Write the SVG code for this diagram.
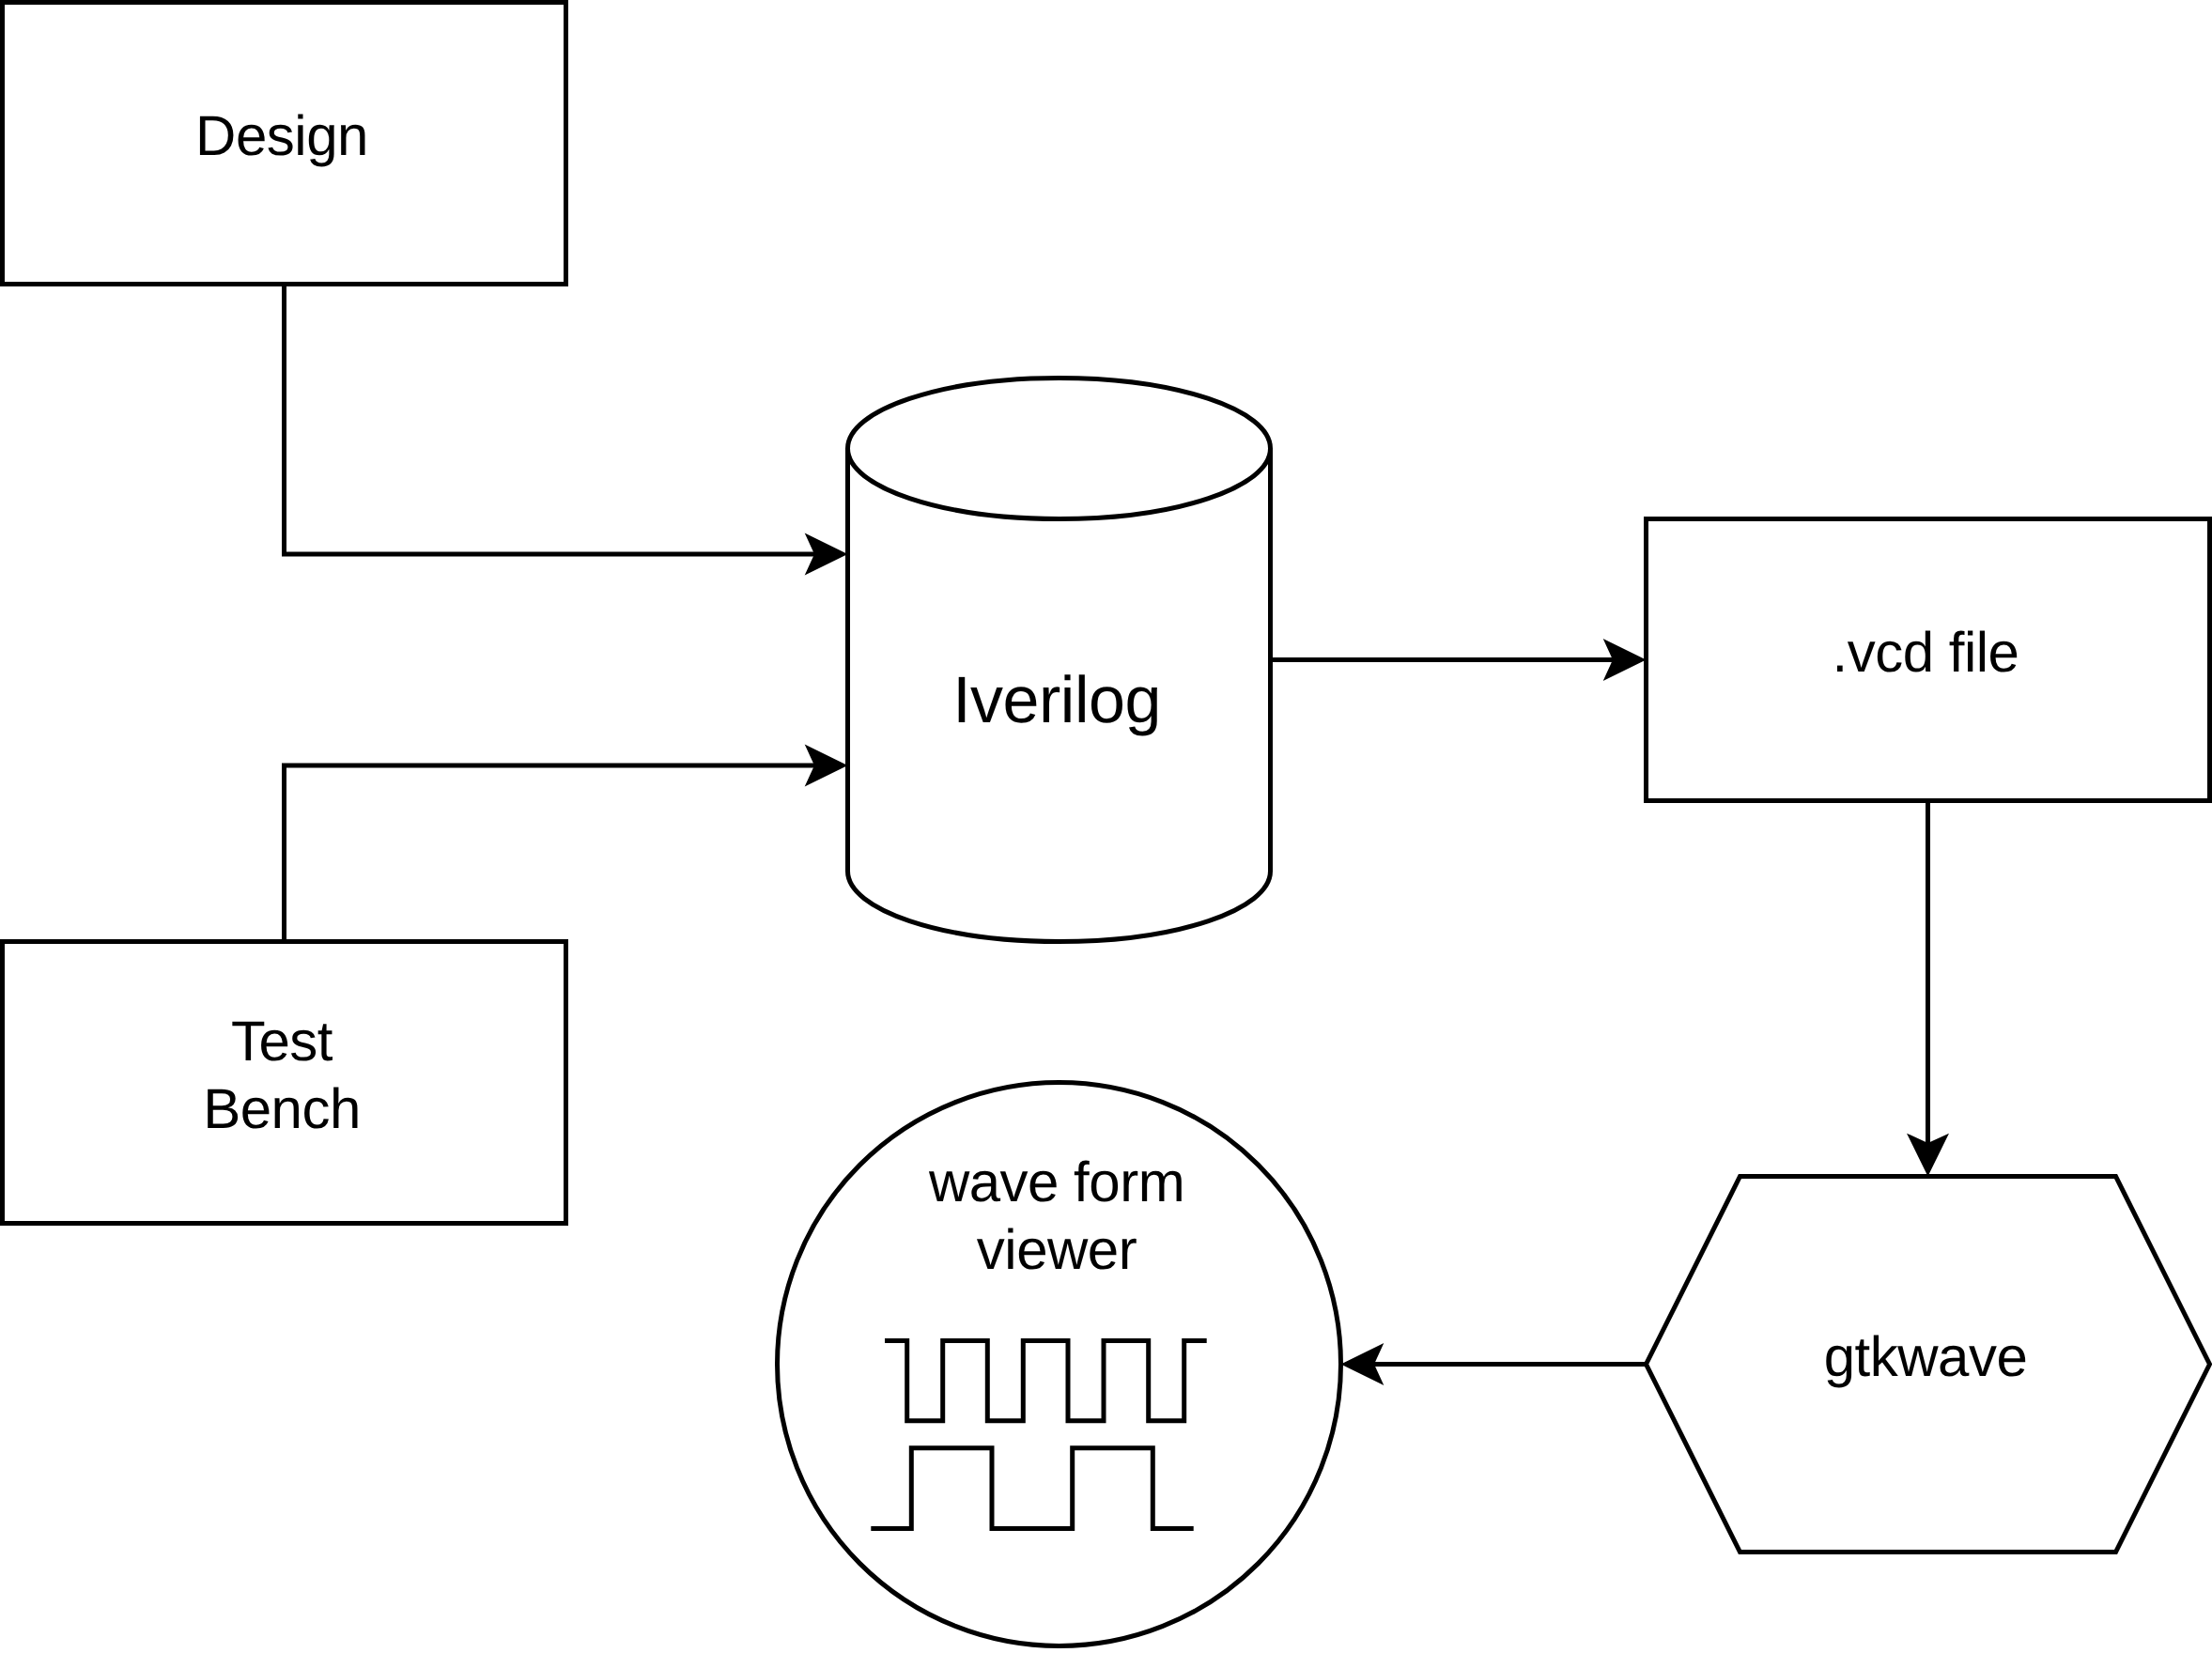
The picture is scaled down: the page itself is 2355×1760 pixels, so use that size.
<svg xmlns="http://www.w3.org/2000/svg" width="2355" height="1760" viewBox="0 0 2355 1760">
<style>
.s{fill:#fff;stroke:#000;stroke-width:5;stroke-miterlimit:10}
.l{fill:none;stroke:#000;stroke-width:5;stroke-miterlimit:10}
.w{fill:none;stroke:#000;stroke-width:5;stroke-miterlimit:10}
text{font-family:"Liberation Sans",Arial,Helvetica,sans-serif;font-size:60px;fill:#000;text-anchor:middle;text-rendering:geometricPrecision;letter-spacing:-0.5px}
</style>
<defs>
<path id="ah" d="M0 0L-45.8 -22.5L-35.5 0L-45.8 22.5Z" fill="#000"/>
</defs>
<rect width="2355" height="1760" fill="#fff"/>
<g id="design">
<rect class="s" x="2.5" y="2.5" width="600" height="300"/>
<text x="300" y="165">Design</text>
</g>
<g id="testbench">
<rect class="s" x="2.5" y="1002.5" width="600" height="300"/>
<text x="300" y="1129">Test</text>
<text x="300" y="1201">Bench</text>
</g>
<g id="iverilog">
<path class="s" d="M902.5 477.5C902.5 436.1 1003.2 402.5 1127.5 402.5S1352.5 436.1 1352.5 477.5V927.5C1352.5 968.9 1251.8 1002.5 1127.5 1002.5S902.5 968.9 902.5 927.5Z"/>
<path class="l" d="M902.5 477.5C902.5 518.9 1003.2 552.5 1127.5 552.5S1352.5 518.9 1352.5 477.5"/>
<text x="1125" y="769" style="font-size:70px">Iverilog</text>
</g>
<g id="vcd">
<rect class="s" x="1752.5" y="552.5" width="600" height="300"/>
<text x="2050" y="715">.vcd file</text>
</g>
<g id="gtkwave">
<path class="s" d="M1852.5 1252.5H2252.5L2352.5 1452.5L2252.5 1652.5H1852.5L1752.5 1452.5Z"/>
<text x="2050" y="1465">gtkwave</text>
</g>
<g id="viewer">
<circle class="s" cx="1127.5" cy="1452.5" r="300"/>
<text x="1125" y="1279">wave form</text>
<text x="1125" y="1351">viewer</text>
<path class="w" d="M942 1427.5H965.7V1512.8H1003.7V1427.5H1051.3V1512.8H1089.3V1427.5H1137V1512.8H1175V1427.5H1222.7V1512.8H1260.7V1427.5H1284.7"/>
<path class="w" d="M927.3 1627.5H970.3V1541.7H1056V1627.5H1141.7V1541.7H1227.3V1627.5H1270.7"/>
</g>
<g id="connectors">
<path class="l" d="M302.5 302.5V590H870"/>
<use href="#ah" transform="translate(902.5 590)"/>
<path class="l" d="M302.5 1002.5V815H870"/>
<use href="#ah" transform="translate(902.5 815)"/>
<path class="l" d="M1352.5 702.5H1720"/>
<use href="#ah" transform="translate(1752.5 702.5)"/>
<path class="l" d="M2052.5 852.5V1220"/>
<use href="#ah" transform="translate(2052.5 1252.5) rotate(90)"/>
<path class="l" d="M1752.5 1452.5H1460"/>
<use href="#ah" transform="translate(1427.5 1452.5) rotate(180)"/>
</g>
</svg>
